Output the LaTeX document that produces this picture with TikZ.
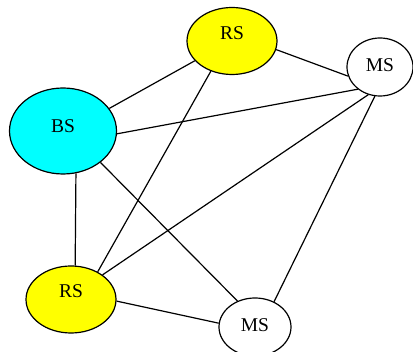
\documentclass[tikz,border=0pt]{standalone}
\usepackage{fontspec}
\setmainfont{Liberation Serif}
\usetikzlibrary{shapes.geometric}
\definecolor{bscyan}{RGB}{0,255,255}
\definecolor{rsyellow}{RGB}{255,255,0}

\begin{document}
\begin{tikzpicture}[x=1pt,y=-1pt,line width=1.2pt,
        station/.style={ellipse,draw=black,inner sep=0pt,text height=13pt,
            font=\fontsize{19.5}{23}\selectfont},
        relay/.style={station,fill=rsyellow,minimum width=90pt,minimum height=67pt,text depth=16pt},
        mobile/.style={station,fill=white,minimum width=66pt,minimum height=58pt,text depth=4pt},
        base/.style={station,fill=bscyan,minimum width=107pt,minimum height=86pt,text depth=9pt}]
        \useasboundingbox (0,0) rectangle (413,352);

        \node [relay] (rstop) at (232,41) {RS};
        \node [mobile] (msright) at (380,67) {MS};
        \node [base] (bs) at (63,131) {BS};
        \node [relay] (rsbot) at (71,299.5) {RS};
        \node [mobile,minimum width=72pt] (msbot) at (255,327) {MS};

        % links
        \draw (bs.26) -- (rstop.208);
        \draw (rstop.-11) -- (msright.196);
        \draw (rstop.235) -- (rsbot.46);
        \draw (bs.-3) -- (msright.225);
        \draw (bs.-40) -- (msbot.124);
        \draw (bs.-73) -- (rsbot.83);
        \draw (msright.247) -- (rsbot.38);
        \draw (msright.260) -- (msbot.53);
        \draw (rsbot.-2) -- (msbot.174);
    \end{tikzpicture}
\end{document}
